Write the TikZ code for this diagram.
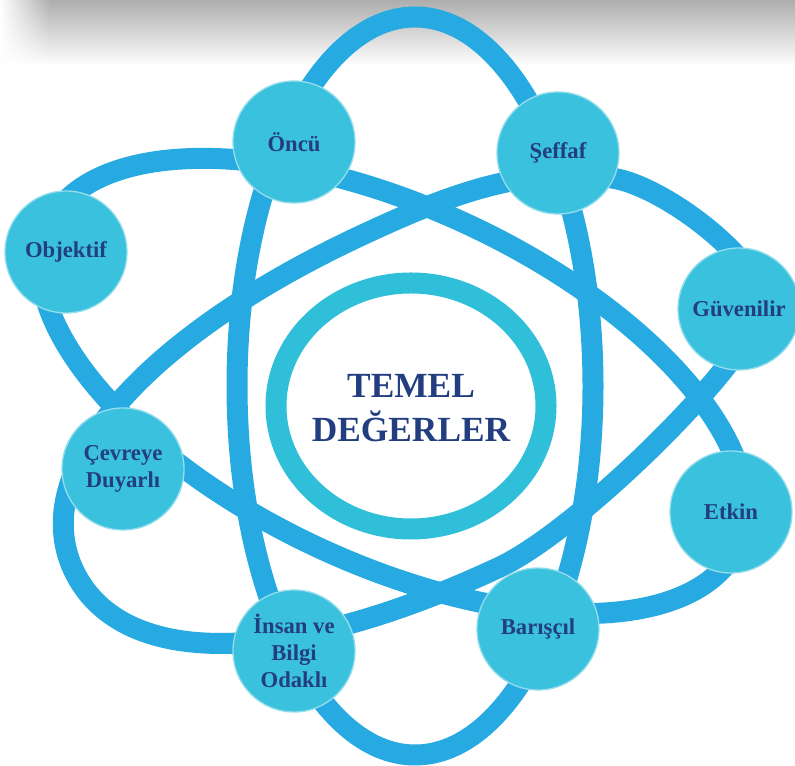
\documentclass[tikz,border=0pt]{standalone}
\usepackage{fontspec}
\setmainfont{Liberation Serif}
\usepackage{xcolor}
\usetikzlibrary{fadings}
\definecolor{orbitBlue}{RGB}{39,170,225}
\definecolor{ringTeal}{RGB}{47,191,216}
\definecolor{valueCyan}{RGB}{58,193,221}
\definecolor{valueNavy}{RGB}{35,62,128}

\begin{document}
\begin{tikzpicture}[x=0.75pt, y=0.75pt]
    \tikzstyle{orbit} = [draw=orbitBlue, line width=15.75pt]
    \tikzstyle{value} = [circle, fill=valueCyan, draw=valueCyan!55!white, line width=1pt, minimum size=91.5pt, inner sep=0pt, align=center, text=valueNavy, font=\fontsize{17}{20.5}\selectfont\bfseries]

    \useasboundingbox (0,0) rectangle (795,766);
    % shadow along the top edge
    \shade[top color=black!32, bottom color=white] (0,700) rectangle (795,766);
    \fill[white, path fading=east] (0,700) rectangle (50,766);

    % orbits
    \draw[orbit] (415,380) ellipse [x radius=178, y radius=369];
    \draw[orbit, rotate around={-25:(393,380)}] (393,380) ellipse [x radius=380, y radius=178];
    % third orbit is narrower at its right end, so it is drawn by hand (y downwards)
    \begin{scope}[shift={(0,766)}, yscale=-1]
        \draw[orbit] (73.4,569.7) .. controls (26.9,470) and (143.5,337.1) .. (361,235.6)
            .. controls (442.5,197.5) and (523,164.7) .. (612,178)
            .. controls (665,186) and (762,262) .. (762,302)
            .. controls (762,350) and (580.8,529.2) .. (499.3,567.3)
            .. controls (284.6,667.5) and (119.9,669.4) .. cycle;
    \end{scope}

    % centre
    \draw[draw=ringTeal, line width=15.75pt] (411,360) ellipse [x radius=135, y radius=123];
    \node[text=valueNavy, align=center, font=\fontsize{26.5}{33}\selectfont\bfseries] (core) at (411,358) {TEMEL\\DEĞERLER};

    % values
    \node[value] (oncu) at (294,624) {Öncü};
    \node[value] (seffaf) at (558,613) {Şeffaf};
    \node[value] (objektif) at (66,514) {Objektif};
    \node[value] (guvenilir) at (739,457) {Güvenilir};
    \node[value] (cevreye) at (123,297) {Çevreye\\Duyarlı};
    \node[value] (etkin) at (731,254) {Etkin};
    \node[value] (barisci) at (538,137) {Barışçıl};
    \node[value] (insan) at (294,115) {İnsan ve\\Bilgi\\Odaklı};
\end{tikzpicture}
\end{document}
